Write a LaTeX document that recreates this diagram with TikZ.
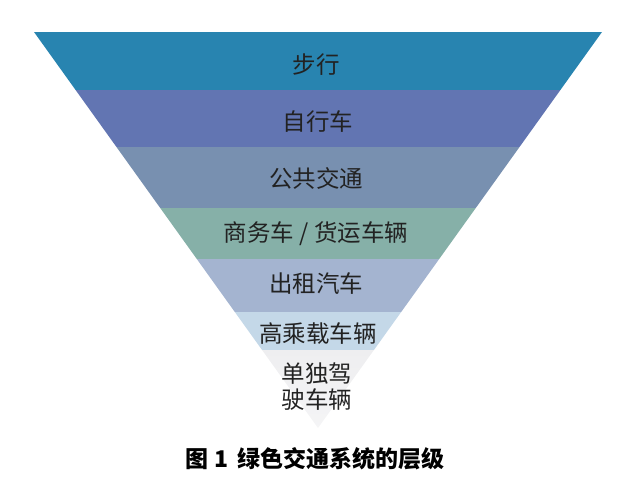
\documentclass[tikz,border=0pt]{standalone}
\usepackage{fontspec}
\newfontfamily\cjk{Noto Sans CJK SC}
\definecolor{bA}{HTML}{2884B0}
\definecolor{bB}{HTML}{6275B2}
\definecolor{bC}{HTML}{7890B0}
\definecolor{bD}{HTML}{86B0A8}
\definecolor{bE}{HTML}{A4B4D0}
\definecolor{bF}{HTML}{C4D8E8}
\definecolor{bG}{HTML}{EEEEF0}
\definecolor{txt}{HTML}{222222}
\tikzset{
  lbl/.style={font=\cjk\fontsize{23.5}{25}\selectfont, text=txt, inner sep=0pt},
  captext/.style={font=\cjk\bfseries\fontsize{23}{25}\selectfont, text=black, inner sep=0pt}
}
\begin{document}
\begin{tikzpicture}[x=1pt,y=-1pt]
\useasboundingbox (0,0) rectangle (635,495);
\begin{scope}
  \clip (34,32) -- (602,32) -- (318,428) -- cycle;
  \fill[bA] (0,32) rectangle (635,90);
  \fill[bB] (0,90) rectangle (635,147);
  \fill[bC] (0,147) rectangle (635,208);
  \fill[bD] (0,208) rectangle (635,259);
  \fill[bE] (0,259) rectangle (635,312);
  \fill[bF] (0,312) rectangle (635,350);
  \shade[top color=bG, bottom color=bG!60!white] (0,350) rectangle (635,428);
\end{scope}
\node[lbl] (l1) at (316,65) {步行};
\node[lbl] (l2) at (318,122) {自行车};
\node[lbl] (l3) at (316,178) {公共交通};
\node[lbl] (l4) at (316,234) {商务车 / 货运车辆};
\node[lbl] (l5) at (316,284) {出租汽车};
\node[lbl] (l6) at (318,334) {高乘载车辆};
\node[lbl] (l7) at (317,374) {单独驾};
\node[lbl] (l8) at (317,400) {驶车辆};
\node[captext] (c) at (315,459) {图 1\hspace{0.4em}绿色交通系统的层级};
\end{tikzpicture}
\end{document}
